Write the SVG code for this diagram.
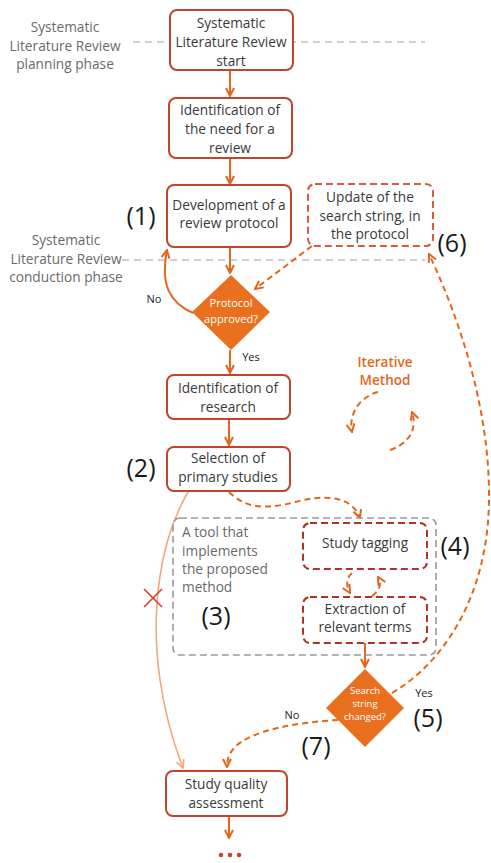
<svg xmlns="http://www.w3.org/2000/svg" width="491" height="863" viewBox="0 0 491 863">
<style>
.bx{fill:#fff;stroke:#c0452b;stroke-width:2}
.dbx{fill:#fff;stroke:#ad3424;stroke-width:2;stroke-dasharray:7 4}
.ubx{fill:#fff;stroke:#dc5a3c;stroke-width:2;stroke-dasharray:7 4}
.t{font-family:"Open Sans","Noto Sans",sans-serif;font-size:13.7px;fill:#3a3a3a;text-anchor:middle}
.g{font-family:"Open Sans","Noto Sans",sans-serif;font-size:13.7px;fill:#6a6a6a;text-anchor:middle}
.n{font-family:"Open Sans","Noto Sans",sans-serif;font-size:25px;fill:#1a1a1a;text-anchor:middle}
.s{font-family:"Open Sans","Noto Sans",sans-serif;font-size:11px;fill:#222;text-anchor:middle}
.w{font-family:"Open Sans","Noto Sans",sans-serif;fill:#fff;text-anchor:middle}
.a{fill:none;stroke:#e2661c;stroke-width:2}
.da{fill:none;stroke:#e2661c;stroke-width:2;stroke-dasharray:6 4}
.ph{stroke:#a0a0a0;stroke-width:1;stroke-dasharray:7 5}
</style>
<defs>
<marker id="ah" viewBox="0 0 10 10" refX="9" refY="5" markerWidth="10" markerHeight="10" orient="auto" markerUnits="userSpaceOnUse">
<path d="M1,1 L9,5 L1,9" fill="none" stroke="#e2661c" stroke-width="2"/>
</marker>
<marker id="ahl" viewBox="0 0 10 10" refX="9" refY="5" markerWidth="10" markerHeight="10" orient="auto" markerUnits="userSpaceOnUse">
<path d="M1,1 L9,5 L1,9" fill="none" stroke="#f2a679" stroke-width="1.6"/>
</marker>
</defs>

<g id="phases">
<line class="ph" x1="133" y1="42" x2="425" y2="42"/>
<line class="ph" x1="122" y1="260" x2="425" y2="260"/>
<text class="g" x="65" y="32">Systematic</text>
<text class="g" x="65" y="51">Literature Review</text>
<text class="g" x="65" y="69">planning phase</text>
<text class="g" x="66" y="245">Systematic</text>
<text class="g" x="66" y="264">Literature Review</text>
<text class="g" x="66" y="282">conduction phase</text>
</g>

<g id="connectors">
<line class="a" x1="230" y1="70" x2="230" y2="96" marker-end="url(#ah)"/>
<line class="a" x1="230" y1="158" x2="230" y2="184" marker-end="url(#ah)"/>
<line class="a" x1="230" y1="247" x2="230" y2="273" marker-end="url(#ah)"/>
<path class="a" d="M193,313 C170,303 160,285 167,250" marker-end="url(#ah)"/>
<path class="da" d="M312,246 L255,289" marker-end="url(#ah)"/>
<line class="a" x1="230" y1="350" x2="230" y2="373" marker-end="url(#ah)"/>
<line class="a" x1="229" y1="419" x2="229" y2="445" marker-end="url(#ah)"/>
<path class="da" d="M229,492 C245,508 265,510 295,502 C325,494 352,496 360,518" marker-end="url(#ah)"/>
<path d="M188,492 C160,540 150,610 160,680 C166,720 176,750 183,768" fill="none" stroke="#f2a679" stroke-width="1.6" marker-end="url(#ahl)"/>
<path class="da" d="M378,392 C362,396 348,412 352,432" marker-end="url(#ah)"/>
<path class="da" d="M390,450 C408,444 418,430 412,412" marker-end="url(#ah)"/>
<path class="da" d="M352,573 C346,578 346,586 350,593" marker-end="url(#ah)"/>
<path class="da" d="M372,596 C380,590 382,584 378,577" marker-end="url(#ah)"/>
<line class="a" x1="365" y1="643" x2="365" y2="667" marker-end="url(#ah)"/>
<path class="da" d="M392,693 C440,665 488,600 489,500 C490,410 460,320 429,254" marker-end="url(#ah)"/>
<path class="da" d="M338,720 C300,722 250,730 234,748 C229,754 227,760 227,767" marker-end="url(#ah)"/>
<line class="a" x1="229" y1="816" x2="229" y2="838" marker-end="url(#ah)"/>
</g>

<g id="start">
<rect class="bx" x="170" y="10" width="123" height="60" rx="7"/>
<text class="t" x="231" y="28">Systematic</text>
<text class="t" x="231" y="47">Literature Review</text>
<text class="t" x="231" y="66">start</text>
</g>
<g id="need">
<rect class="bx" x="169" y="98" width="123" height="60" rx="7"/>
<text class="t" x="230" y="115">Identification of</text>
<text class="t" x="230" y="134">the need for a</text>
<text class="t" x="230" y="153">review</text>
</g>
<g id="protocol">
<rect class="bx" x="167" y="185" width="124" height="62" rx="7"/>
<text class="t" x="229" y="210">Development of a</text>
<text class="t" x="229" y="228">review protocol</text>
<text class="n" x="141" y="225">(1)</text>
</g>
<g id="update">
<rect class="ubx" x="308" y="184" width="125" height="62" rx="7"/>
<text class="t" x="370" y="202">Update of the</text>
<text class="t" x="370" y="221">search string, in</text>
<text class="t" x="370" y="239">the protocol</text>
<text class="n" x="452" y="252">(6)</text>
</g>
<g id="approved">
<polygon points="231,275 270,312 231,350 192,312" fill="#e8701e"/>
<text class="w" x="231" y="307" font-size="11">Protocol</text>
<text class="w" x="231" y="323" font-size="11">approved?</text>
<text class="s" x="154" y="303">No</text>
<text class="s" x="251" y="361">Yes</text>
</g>
<g id="research">
<rect class="bx" x="167" y="375" width="123" height="44" rx="7"/>
<text class="t" x="228" y="393">Identification of</text>
<text class="t" x="228" y="412">research</text>
</g>
<g id="selection">
<rect class="bx" x="167" y="447" width="123" height="44" rx="7"/>
<text class="t" x="228" y="463">Selection of</text>
<text class="t" x="228" y="482">primary studies</text>
<text class="n" x="141" y="477">(2)</text>
</g>
<g id="iterative">
<text x="385" y="367" font-family="'Open Sans','Noto Sans',sans-serif" font-size="13.5" font-weight="600" fill="#e2661c" text-anchor="middle">Iterative</text>
<text x="385" y="385" font-family="'Open Sans','Noto Sans',sans-serif" font-size="13.5" font-weight="600" fill="#e2661c" text-anchor="middle">Method</text>
</g>
<g id="tool">
<rect x="173" y="518" width="263" height="137" rx="7" fill="none" stroke="#9a9a9a" stroke-width="1.6" stroke-dasharray="7 4"/>
<text class="g" x="182" y="537" style="text-anchor:start">A tool that</text>
<text class="g" x="182" y="556" style="text-anchor:start">implements</text>
<text class="g" x="182" y="574" style="text-anchor:start">the proposed</text>
<text class="g" x="182" y="592" style="text-anchor:start">method</text>
<text class="n" x="216" y="625">(3)</text>
</g>
<g id="tagging">
<rect class="dbx" x="303" y="523" width="124" height="46" rx="7"/>
<text class="t" x="365" y="548">Study tagging</text>
<text class="n" x="455" y="555">(4)</text>
</g>
<g id="extraction">
<rect class="dbx" x="303" y="597" width="124" height="46" rx="7"/>
<text class="t" x="365" y="614">Extraction of</text>
<text class="t" x="365" y="632">relevant terms</text>
</g>
<g id="changed">
<polygon points="365,669 404,708 365,747 326,708" fill="#e8701e"/>
<text class="w" x="365" y="694" font-size="9.5">Search</text>
<text class="w" x="365" y="707" font-size="9.5">string</text>
<text class="w" x="365" y="720" font-size="9.5">changed?</text>
<text class="s" x="424" y="697">Yes</text>
<text class="n" x="428" y="727">(5)</text>
<text class="s" x="292" y="719">No</text>
<text class="n" x="316" y="755">(7)</text>
</g>
<g id="reject">
<path d="M144,589 L162,607 M162,589 L144,607" stroke="#d0402a" stroke-width="1.6"/>
</g>
<g id="quality">
<rect class="bx" x="166" y="771" width="121" height="45" rx="7"/>
<text class="t" x="226" y="789">Study quality</text>
<text class="t" x="226" y="808">assessment</text>
</g>
<g id="more">
<circle cx="221" cy="855" r="2.3" fill="#c0452b"/>
<circle cx="230" cy="855" r="2.3" fill="#c0452b"/>
<circle cx="239" cy="855" r="2.3" fill="#c0452b"/>
</g>
</svg>
